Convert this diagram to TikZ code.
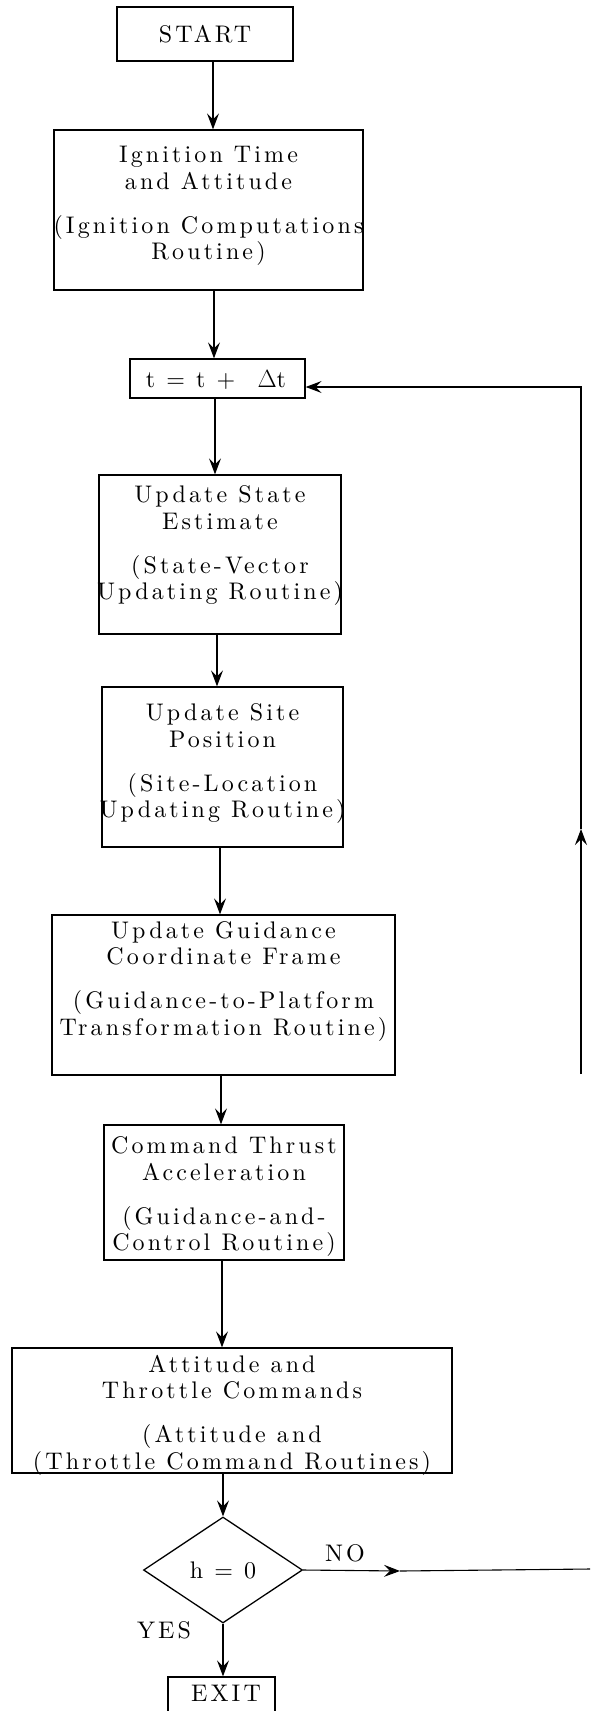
\documentclass[tikz,border=0pt]{standalone}
\usepackage{fontspec}
\setmainfont{lmroman10-regular.otf}[LetterSpace=13]
\usetikzlibrary{shapes.geometric,arrows.meta}
\begin{document}
\begin{tikzpicture}[x=1pt,y=-1pt,
  boxsty/.style={draw, line width=1.3pt, inner sep=0pt},
  txt/.style={align=center, inner sep=0pt, font=\fontsize{24}{26.5}\selectfont},
  arr/.style={line width=1.1pt, -{Stealth[length=16pt,width=12pt,inset=6pt]}},
  plain/.style={line width=1.1pt}]
\useasboundingbox (0,0) rectangle (590,1711);
% boxes
\node[boxsty, minimum width=176pt, minimum height=54pt] (start) at (205,34) {};
\node[txt] (startT) at (205,34) {START};
\node[boxsty, minimum width=309pt, minimum height=160pt] (ign) at (208.5,210) {};
\node[txt] (ignT) at (208.5,206) {Ignition Time\\and Attitude\\[17.5pt](Ignition Computations\\Routine)};
\node[boxsty, minimum width=175pt, minimum height=39pt] (t) at (217.5,378.5) {};
\node[txt] (tT) at (216,380) {t = t + ~$\Delta$t};
\node[boxsty, minimum width=242pt, minimum height=159pt] (state) at (220,554.5) {};
\node[txt] (stateT) at (220,546) {Update State\\Estimate\\[17.5pt](State-Vector\\Updating Routine)};
\node[boxsty, minimum width=241pt, minimum height=160pt] (site) at (222.5,767) {};
\node[txt] (siteT) at (222.5,764) {Update Site\\Position\\[17.5pt](Site-Location\\Updating Routine)};
\node[boxsty, minimum width=343pt, minimum height=160pt] (guid) at (223.5,995) {};
\node[txt] (guidT) at (223.5,981.5) {Update Guidance\\Coordinate Frame\\[17.5pt](Guidance-to-Platform\\Transformation Routine)};
\node[boxsty, minimum width=240pt, minimum height=135pt] (cmd) at (224,1192.5) {};
\node[txt] (cmdT) at (224,1197) {Command Thrust\\Acceleration\\[17.5pt](Guidance-and-\\Control Routine)};
\node[boxsty, minimum width=440pt, minimum height=125pt] (att) at (232,1410.5) {};
\node[txt] (attT) at (232,1415) {Attitude and\\Throttle Commands\\[17.5pt](Attitude and\\(Throttle Command Routines)};
\node[boxsty, diamond, minimum width=159pt, minimum height=106pt, txt] (dec) at (223,1570) {h = 0};
\node[boxsty, minimum width=107pt, minimum height=43pt] (exit) at (221.5,1698.5) {};
\node[txt] (exitT) at (226,1693) {EXIT};
\node[txt] (no) at (345,1553) {NO};
\node[txt] (yes) at (164,1630) {YES};
% column coordinates
\coordinate (c1) at (213,0);
\coordinate (c2) at (214,0);
\coordinate (c3) at (215,0);
\coordinate (c4) at (217,0);
\coordinate (c5) at (220,0);
\coordinate (c6) at (221,0);
\coordinate (c7) at (222,0);
\coordinate (c8) at (223,0);
\draw[arr] (start.south -| c1) -- (ign.north -| c1);
\draw[arr] (ign.south -| c2) -- (t.north -| c2);
\draw[arr] (t.south -| c3) -- (state.north -| c3);
\draw[arr] (state.south -| c4) -- (site.north -| c4);
\draw[arr] (site.south -| c5) -- (guid.north -| c5);
\draw[arr] (guid.south -| c6) -- (cmd.north -| c6);
\draw[arr] (cmd.south -| c7) -- (att.north -| c7);
\draw[arr] (att.south -| c8) -- (dec.north);
\draw[arr] (dec.south) -- (exit.north -| dec.south);
% loop back
\coordinate (lb) at (581,1074);
\coordinate (lm) at (581,829);
\coordinate (lt) at (581,387);
\draw[arr] (lb) -- (lm);
\draw[arr] (lm) -- (lt) -- (lt -| t.east);
% NO branch
\coordinate (nm) at (400,1571);
\coordinate (ne) at (590,1569);
\draw[arr] (dec.east) -- (nm);
\draw[plain] (nm) -- (ne);
\end{tikzpicture}
\end{document}
